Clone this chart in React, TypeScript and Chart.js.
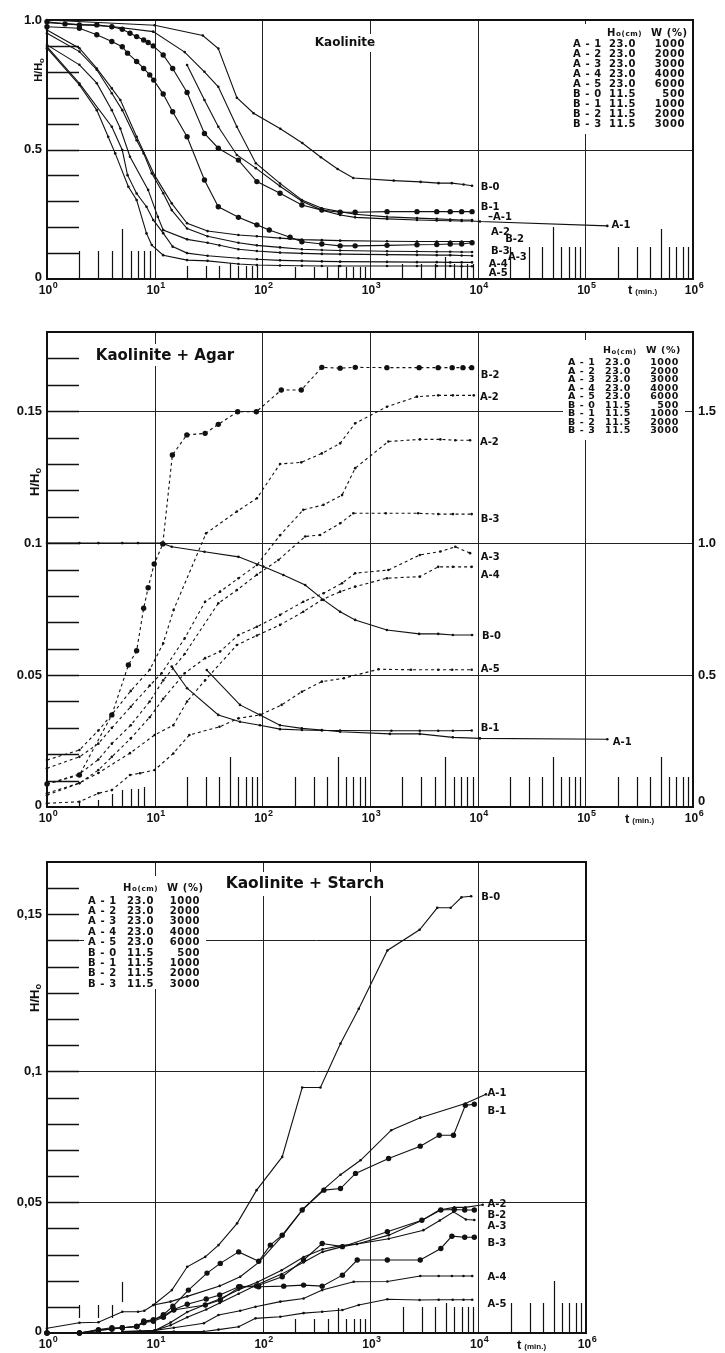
import React, { useEffect, useRef } from "react";
import { Chart, registerables } from "chart.js";

Chart.register(...registerables);

// ================= shared table text =================
const legendNames = ["A-1", "A-2", "A-3", "A-4", "A-5", "B-0", "B-1", "B-2", "B-3"];
const legendH0 = ["23.0", "23.0", "23.0", "23.0", "23.0", "11.5", "11.5", "11.5", "11.5"];
const legendW = ["1000", "2000", "3000", "4000", "6000", "500", "1000", "2000", "3000"];

// ================= Panel 1 : Kaolinite (H/H0) =================
const p1_B0_t = [1, 10, 28, 39, 58, 83, 147, 235, 350, 500, 700, 1660, 2950, 4330, 5750, 7400, 8870];
const p1_B0_v = [1.0, 0.98, 0.94, 0.89, 0.7, 0.64, 0.58, 0.525, 0.47, 0.425, 0.39, 0.38, 0.375, 0.37, 0.37, 0.365, 0.36];
const p1_B1_t = [1, 1.47, 2, 2.9, 4, 5, 5.9, 6.8, 7.9, 8.7, 9.7, 12, 14.7, 20, 29, 39, 60, 89, 146, 233, 357, 528, 728, 1440, 2730, 4170, 5560, 7100, 8870];
const p1_B1_v = [0.993, 0.985, 0.981, 0.981, 0.974, 0.964, 0.949, 0.936, 0.923, 0.913, 0.9, 0.865, 0.813, 0.72, 0.562, 0.505, 0.459, 0.376, 0.331, 0.286, 0.266, 0.258, 0.258, 0.26, 0.26, 0.26, 0.26, 0.26, 0.26];
const p1_A1a_t = [1, 4, 9.7, 19, 29, 39, 58, 87, 146, 233, 357, 528, 728, 1440, 2730, 4170, 5560, 7100, 8870];
const p1_A1a_v = [0.99, 0.975, 0.955, 0.876, 0.8, 0.742, 0.588, 0.447, 0.369, 0.305, 0.273, 0.26, 0.25, 0.24, 0.235, 0.232, 0.23, 0.228, 0.228];
const p1_A1_t = [20, 29, 39, 58, 87, 146, 233, 357, 528, 728, 1440, 2730, 4170, 5560, 7100, 8870, 10500, 160000];
const p1_A1_v = [0.826, 0.691, 0.588, 0.479, 0.428, 0.358, 0.3, 0.266, 0.247, 0.238, 0.232, 0.228, 0.226, 0.225, 0.224, 0.224, 0.222, 0.205];
const p1_B2_t = [1, 2, 2.9, 4, 5, 5.6, 6.8, 7.9, 9, 9.8, 12, 14.7, 20, 29, 39, 60, 89, 116, 181, 233, 357, 528, 728, 1440, 2730, 4170, 5560, 7100, 8870];
const p1_B2_v = [0.974, 0.968, 0.943, 0.917, 0.897, 0.872, 0.84, 0.813, 0.788, 0.768, 0.714, 0.646, 0.549, 0.382, 0.279, 0.238, 0.209, 0.189, 0.161, 0.144, 0.135, 0.128, 0.128, 0.13, 0.132, 0.133, 0.135, 0.135, 0.14];
const p1_A2_t = [1, 2, 2.9, 4, 4.8, 6.8, 10, 14.4, 20, 31, 60, 89, 146, 233, 357, 528, 1440, 2730, 4170, 5560, 7100, 8870];
const p1_A2_v = [0.961, 0.891, 0.813, 0.736, 0.691, 0.549, 0.4, 0.292, 0.215, 0.185, 0.17, 0.165, 0.158, 0.152, 0.15, 0.148, 0.146, 0.145, 0.145, 0.145, 0.145, 0.145];
const p1_B3_t = [1, 2, 2.9, 4, 5, 6.8, 7.9, 9.4, 12, 14.4, 20, 31, 60, 89, 146, 233, 357, 528, 1440, 2730, 4170, 5560, 7100, 8870];
const p1_B3_v = [0.949, 0.878, 0.808, 0.717, 0.652, 0.536, 0.485, 0.408, 0.331, 0.266, 0.195, 0.165, 0.14, 0.13, 0.122, 0.115, 0.112, 0.11, 0.107, 0.106, 0.105, 0.105, 0.104, 0.104];
const p1_A3_t = [1, 2, 2.9, 4, 4.8, 5.9, 8.7, 10.7, 12, 20, 31, 40, 60, 89, 146, 233, 357, 528, 1440, 2730, 4170, 5560, 7100, 8870];
const p1_A3_v = [0.904, 0.827, 0.756, 0.652, 0.581, 0.472, 0.344, 0.24, 0.189, 0.153, 0.14, 0.13, 0.115, 0.108, 0.102, 0.099, 0.097, 0.096, 0.094, 0.093, 0.092, 0.092, 0.091, 0.09];
const p1_A4_t = [1, 2, 4, 5, 5.6, 6.8, 8.4, 9.7, 12, 14.7, 20, 31, 60, 89, 146, 233, 357, 528, 1440, 2730, 4170, 5560, 7100, 8870];
const p1_A4_v = [0.897, 0.755, 0.588, 0.498, 0.401, 0.33, 0.279, 0.228, 0.177, 0.125, 0.1, 0.09, 0.08, 0.076, 0.072, 0.07, 0.068, 0.067, 0.066, 0.065, 0.065, 0.064, 0.064, 0.064];
const p1_A5_t = [1, 2, 2.9, 3.7, 4.3, 5.7, 6.8, 8.4, 9.4, 12, 20, 31, 60, 89, 146, 233, 357, 528, 1440, 2730, 4170, 5560, 7100, 8870];
const p1_A5_v = [0.891, 0.749, 0.652, 0.549, 0.485, 0.356, 0.305, 0.176, 0.131, 0.092, 0.073, 0.07, 0.058, 0.054, 0.052, 0.051, 0.05, 0.05, 0.05, 0.05, 0.05, 0.05, 0.049, 0.049];

// ================= Panel 2 : Kaolinite + Agar =================
// dotted curves, left axis (H/H0)
const p2_B2_t = [1, 2, 4, 5.7, 6.8, 7.9, 8.7, 9.9, 11.9, 14.6, 19.9, 29.4, 39, 59, 88, 150, 230, 357, 528, 730, 1436, 2860, 4300, 5800, 7300, 8800];
const p2_B2_v = [0.0087, 0.0121, 0.0349, 0.0538, 0.0592, 0.0753, 0.0831, 0.0921, 0.0997, 0.1334, 0.141, 0.1416, 0.145, 0.1498, 0.1498, 0.158, 0.158, 0.1666, 0.1663, 0.1666, 0.1665, 0.1665, 0.1665, 0.1665, 0.1665, 0.1665];
const p2_A2u_t = [1, 2, 3, 4, 6, 9, 12, 15, 30, 58, 89, 146, 230, 357, 528, 728, 1436, 2730, 4300, 5880, 9200];
const p2_A2u_v = [0.0178, 0.0216, 0.029, 0.035, 0.044, 0.052, 0.062, 0.0747, 0.1037, 0.112, 0.117, 0.13, 0.1306, 0.134, 0.1378, 0.1454, 0.1517, 0.1555, 0.156, 0.156, 0.156];
const p2_A2l_t = [1, 2, 3, 4, 6, 9, 11.6, 19, 29.4, 40.5, 60, 89, 146, 240, 370, 550, 728, 1480, 2900, 4500, 6200, 8500];
const p2_A2l_v = [0.0147, 0.019, 0.024, 0.03, 0.038, 0.046, 0.0507, 0.0639, 0.0778, 0.0816, 0.0867, 0.0917, 0.103, 0.1126, 0.1145, 0.1182, 0.1284, 0.1385, 0.1393, 0.1393, 0.139, 0.139];
const p2_B3_t = [1, 2, 3, 4, 6, 9, 12, 19, 39, 58, 89, 141, 250, 344, 528, 700, 1400, 2800, 4300, 5900, 8800];
const p2_B3_v = [0.0087, 0.0125, 0.018, 0.024, 0.031, 0.04, 0.048, 0.058, 0.0772, 0.0822, 0.088, 0.0936, 0.1025, 0.1031, 0.1075, 0.1113, 0.1113, 0.1113, 0.111, 0.111, 0.111];
const p2_A3_t = [1, 2, 3, 4, 6, 9, 12, 19, 29.4, 40.5, 60, 89, 146, 240, 370, 550, 728, 1480, 2900, 4500, 6200, 8500];
const p2_A3_v = [0.0045, 0.009, 0.014, 0.019, 0.026, 0.034, 0.041, 0.0507, 0.0564, 0.0589, 0.0652, 0.0683, 0.0728, 0.0778, 0.081, 0.0848, 0.0886, 0.0898, 0.0955, 0.0968, 0.0986, 0.0962];
const p2_A4_t = [1, 2, 3, 5.9, 10, 14.9, 20, 29.4, 58, 89, 146, 240, 357, 528, 728, 1436, 2900, 4300, 5880, 8800];
const p2_A4_v = [0.0052, 0.0091, 0.0129, 0.0204, 0.0273, 0.031, 0.04, 0.048, 0.0614, 0.065, 0.069, 0.074, 0.0785, 0.0816, 0.0835, 0.0867, 0.0873, 0.091, 0.091, 0.091];
const p2_A5_t = [1, 2, 3, 4, 5.9, 7.3, 10, 14.9, 21, 40, 60, 95, 151, 233, 357, 570, 1200, 2400, 4300, 5800, 8800];
const p2_A5_v = [0.0014, 0.002, 0.0052, 0.0064, 0.0121, 0.0128, 0.014, 0.0203, 0.0273, 0.0304, 0.0336, 0.0349, 0.0387, 0.0437, 0.0475, 0.0488, 0.0522, 0.052, 0.052, 0.052, 0.052];
// solid curves, right axis (H/H0)
const p2_B0_t = [1, 2, 3, 5, 7, 11.6, 14.4, 29, 60, 102, 157, 250, 370, 528, 728, 1436, 2860, 4300, 5880, 8870];
const p2_B0_v = [1.0, 1.0, 1.0, 1.0, 1.0, 1.0, 0.986, 0.967, 0.948, 0.911, 0.879, 0.841, 0.785, 0.74, 0.709, 0.671, 0.656, 0.656, 0.652, 0.652];
const p2_B1_t = [14.4, 20, 39, 62, 95, 146, 233, 357, 528, 1580, 2900, 4300, 5880, 8800];
const p2_B1_v = [0.532, 0.45, 0.349, 0.323, 0.31, 0.295, 0.292, 0.29, 0.29, 0.289, 0.289, 0.289, 0.289, 0.29];
const p2_A1_t = [30.5, 62, 95, 146, 233, 357, 528, 1530, 2900, 5880, 10500, 160000];
const p2_A1_v = [0.519, 0.387, 0.349, 0.31, 0.298, 0.292, 0.285, 0.277, 0.277, 0.264, 0.26, 0.257];

// ================= Panel 3 : Kaolinite + Starch =================
const p3_B0_t = [1, 2, 3, 5, 7, 8, 9.7, 14.4, 20, 29.4, 39, 58, 88, 152, 233, 344, 528, 780, 1436, 2860, 4170, 5560, 7000, 8600];
const p3_B0_v = [0.0018, 0.0039, 0.0041, 0.0081, 0.0081, 0.0085, 0.0107, 0.0164, 0.0253, 0.0291, 0.0336, 0.0419, 0.0546, 0.0673, 0.0938, 0.0938, 0.1106, 0.1239, 0.1462, 0.1541, 0.1625, 0.1625, 0.1665, 0.1669];
const p3_A1_t = [9.7, 14, 20, 40, 62, 92, 152, 240, 370, 528, 810, 1560, 2900, 7600, 11800];
const p3_A1_v = [0.0107, 0.012, 0.014, 0.018, 0.0215, 0.027, 0.037, 0.0476, 0.055, 0.0605, 0.066, 0.0775, 0.0823, 0.0877, 0.0912];
const p3_B1_t = [1, 2, 3, 4, 5, 6.8, 7.9, 9.7, 12, 14.7, 20.5, 30.5, 40.5, 60, 92, 118, 152, 233, 370, 528, 728, 1475, 2900, 4350, 5900, 7600, 9200];
const p3_B1_v = [0, 0, 0.0013, 0.002, 0.002, 0.0025, 0.0046, 0.005, 0.007, 0.0102, 0.0164, 0.0229, 0.0266, 0.031, 0.0274, 0.0336, 0.0374, 0.047, 0.0546, 0.0552, 0.061, 0.0667, 0.0714, 0.0756, 0.0756, 0.087, 0.0874];
const p3_B2_t = [1, 2, 3, 4, 5, 6.8, 7.9, 9.7, 12, 15, 20, 30, 40, 60, 88, 152, 240, 357, 550, 1436, 3000, 4500, 6000, 7500, 9200];
const p3_B2_v = [0, 0, 0.001, 0.0015, 0.002, 0.0025, 0.004, 0.005, 0.0065, 0.009, 0.011, 0.013, 0.0145, 0.0177, 0.018, 0.0215, 0.0279, 0.0342, 0.033, 0.0387, 0.0431, 0.047, 0.0472, 0.047, 0.047];
const p3_B3_t = [1, 2, 3, 4, 5, 6.8, 7.9, 9.7, 12, 15, 29.4, 40.5, 62, 92, 157, 240, 357, 550, 755, 1436, 2900, 4500, 5700, 7500, 9200];
const p3_B3_v = [0, 0, 0.001, 0.0015, 0.002, 0.0025, 0.004, 0.0045, 0.006, 0.0088, 0.0107, 0.0126, 0.0177, 0.0177, 0.0179, 0.0183, 0.0179, 0.0221, 0.0279, 0.0279, 0.0279, 0.0323, 0.037, 0.0366, 0.0366];
const p3_A2_t = [10, 14, 20, 30, 40, 60, 90, 150, 240, 360, 550, 750, 1480, 3000, 4350, 6000, 7600, 11000];
const p3_A2_v = [0.001, 0.004, 0.008, 0.011, 0.013, 0.0165, 0.0195, 0.024, 0.029, 0.032, 0.0335, 0.034, 0.0374, 0.043, 0.047, 0.048, 0.048, 0.049];
const p3_A3_t = [10, 14, 20, 30, 40, 60, 90, 150, 240, 360, 550, 750, 1480, 3100, 4400, 5900, 7700, 9200];
const p3_A3_v = [0.001, 0.003, 0.006, 0.009, 0.0115, 0.015, 0.0185, 0.0225, 0.027, 0.031, 0.033, 0.034, 0.036, 0.0393, 0.043, 0.0463, 0.0434, 0.0432];
const p3_A4_t = [5, 7.3, 10, 15, 28.5, 39, 62, 86, 146, 240, 357, 700, 1436, 2900, 4300, 5700, 7300, 8800];
const p3_A4_v = [0.0006, 0.0008, 0.001, 0.002, 0.0037, 0.0069, 0.0085, 0.01, 0.012, 0.0132, 0.0164, 0.0196, 0.0197, 0.0218, 0.0218, 0.0218, 0.0218, 0.0218];
const p3_A5_t = [5, 7.3, 15, 28.5, 39, 60, 86, 146, 240, 357, 550, 780, 1436, 2860, 4300, 5800, 7300, 8800];
const p3_A5_v = [0.0006, 0.0006, 0.0006, 0.0006, 0.0013, 0.0024, 0.0056, 0.0062, 0.0076, 0.0081, 0.0088, 0.0107, 0.0129, 0.0126, 0.0127, 0.0127, 0.0127, 0.0127];

// ================= axis tick labels =================
const p1YTicks = [0, 0.5, 1.0];
const p1YText = ["0", "0.5", "1.0"];
const p2YTicks = [0, 0.05, 0.1, 0.15];
const p2YText = ["0", "0.05", "0.1", "0.15"];
const p2Y1Ticks = [0, 0.5, 1.0, 1.5];
const p2Y1Text = ["0", "0.5", "1.0", "1.5"];
const p3YTicks = [0, 0.05, 0.1, 0.16];
const p3YText = ["0", "0,05", "0,1", "0,15"];
const p12XExp = [0, 1, 2, 3, 4, 5, 6];
const p12XText = ["0", "1", "2", "3", "4", "5", "6"];
const p3XExp = [0, 1, 2, 3, 4, 5];
const p3XText = ["0", "1", "2", "3", "4", "6"];

// ================= types & config =================
type Series = { name: string; t: number[]; v: number[]; big?: boolean; dash?: boolean; right?: boolean };
type Lbl = { text: string; t: number; v: number; right?: boolean };
type TickSpec = (decade: number, m: number) => [number, number] | null;

interface PanelCfg {
  id: string;
  top: number;
  height: number;
  pad: { left: number; right: number; top: number; bottom: number };
  xMax: number;
  yMax: number;
  y1Max?: number;
  series: Series[];
  yTicks: number[];
  yText: string[];
  y1Ticks?: number[];
  y1Text?: string[];
  xExp: number[];
  xText: string[];
  hGrid: number[];
  vGrid: number[];
  minorStep: number;
  minorCount: number;
  tickSpec: TickSpec;
  title: { text: string; x: number; y: number; size: number };
  yTitle: { x: number; y: number; size: number };
  tmin: { x: number; y: number };
  legend: { nameX: number; h0X: number; wRight: number; headY: number; headH0X: number; headWX: number; row0: number; gap: number; size: number; clear: [number, number, number, number] };
  labels: Lbl[];
  titleClear: [number, number, number, number];
}

const p1Series: Series[] = [
  { name: "B-0", t: p1_B0_t, v: p1_B0_v },
  { name: "B-1", t: p1_B1_t, v: p1_B1_v, big: true },
  { name: "A-1 (a)", t: p1_A1a_t, v: p1_A1a_v },
  { name: "A-1", t: p1_A1_t, v: p1_A1_v },
  { name: "B-2", t: p1_B2_t, v: p1_B2_v, big: true },
  { name: "A-2", t: p1_A2_t, v: p1_A2_v },
  { name: "B-3", t: p1_B3_t, v: p1_B3_v },
  { name: "A-3", t: p1_A3_t, v: p1_A3_v },
  { name: "A-4", t: p1_A4_t, v: p1_A4_v },
  { name: "A-5", t: p1_A5_t, v: p1_A5_v },
];

const p2Series: Series[] = [
  { name: "B-2", t: p2_B2_t, v: p2_B2_v, big: true, dash: true },
  { name: "A-2", t: p2_A2u_t, v: p2_A2u_v, dash: true },
  { name: "A-2 (2)", t: p2_A2l_t, v: p2_A2l_v, dash: true },
  { name: "B-3", t: p2_B3_t, v: p2_B3_v, dash: true },
  { name: "A-3", t: p2_A3_t, v: p2_A3_v, dash: true },
  { name: "A-4", t: p2_A4_t, v: p2_A4_v, dash: true },
  { name: "A-5", t: p2_A5_t, v: p2_A5_v, dash: true },
  { name: "B-0", t: p2_B0_t, v: p2_B0_v, right: true },
  { name: "B-1", t: p2_B1_t, v: p2_B1_v, right: true },
  { name: "A-1", t: p2_A1_t, v: p2_A1_v, right: true },
];

const p3Series: Series[] = [
  { name: "B-0", t: p3_B0_t, v: p3_B0_v },
  { name: "A-1", t: p3_A1_t, v: p3_A1_v },
  { name: "B-1", t: p3_B1_t, v: p3_B1_v, big: true },
  { name: "B-2", t: p3_B2_t, v: p3_B2_v, big: true },
  { name: "B-3", t: p3_B3_t, v: p3_B3_v, big: true },
  { name: "A-2", t: p3_A2_t, v: p3_A2_v },
  { name: "A-3", t: p3_A3_t, v: p3_A3_v },
  { name: "A-4", t: p3_A4_t, v: p3_A4_v },
  { name: "A-5", t: p3_A5_t, v: p3_A5_v },
];

const P1: PanelCfg = {
  id: "p1",
  top: 0,
  height: 305,
  pad: { left: 47, right: 32, top: 20, bottom: 26 },
  xMax: 1e6,
  yMax: 1.0,
  series: p1Series,
  yTicks: p1YTicks,
  yText: p1YText,
  xExp: p12XExp,
  xText: p12XText,
  hGrid: [0.5],
  vGrid: [1, 2, 3, 4, 5],
  minorStep: 0.1,
  minorCount: 9,
  tickSpec: (d, m) => {
    const base = [28, 13, 12, 15, 32, 32][d];
    const five = [50, 16, 14, 22, 52, 50][d];
    return [0, m === 5 ? five : base];
  },
  title: { text: "Kaolinite", x: 345, y: 43, size: 12 },
  titleClear: [318, 34, 60, 18],
  yTitle: { x: 39, y: 70, size: 11 },
  tmin: { x: 628, y: 294 },
  legend: { nameX: 573, h0X: 609, wRight: 685, headY: 33, headH0X: 607, headWX: 651, row0: 44, gap: 10.1, size: 10, clear: [566, 24, 124, 110] },
  labels: [
    { text: "B-0", t: 10700, v: 0.355 },
    { text: "B-1", t: 10700, v: 0.276 },
    { text: "–A-1", t: 12500, v: 0.236 },
    { text: "A-2", t: 13300, v: 0.18 },
    { text: "B-2", t: 18000, v: 0.151 },
    { text: "B-3", t: 13300, v: 0.108 },
    { text: "A-3", t: 19100, v: 0.082 },
    { text: "A-4", t: 12700, v: 0.055 },
    { text: "A-5", t: 12700, v: 0.02 },
    { text: "A-1", t: 175000, v: 0.205 },
  ],
};

const P2: PanelCfg = {
  id: "p2",
  top: 305,
  height: 530,
  pad: { left: 47, right: 32, top: 27, bottom: 28 },
  xMax: 1e6,
  yMax: 0.18,
  y1Max: 1.8,
  series: p2Series,
  yTicks: p2YTicks,
  yText: p2YText,
  y1Ticks: p2Y1Ticks,
  y1Text: p2Y1Text,
  xExp: p12XExp,
  xText: p12XText,
  hGrid: [0.05, 0.1, 0.15],
  vGrid: [1, 2, 3, 4, 5],
  minorStep: 0.01,
  minorCount: 17,
  tickSpec: (d, m) => {
    if (d === 0) return [0, [0, 0, 5, 7, 13, 17, 18, 18, 20][m]];
    return [0, m === 5 ? 50 : 30];
  },
  title: { text: "Kaolinite + Agar", x: 165, y: 356, size: 15 },
  titleClear: [86, 344, 160, 22],
  yTitle: { x: 35, y: 482, size: 13 },
  tmin: { x: 625, y: 823 },
  legend: { nameX: 568, h0X: 605, wRight: 679, headY: 351, headH0X: 603, headWX: 646, row0: 363, gap: 8.5, size: 9.5, clear: [563, 340, 122, 100] },
  labels: [
    { text: "B-2", t: 10700, v: 0.1637 },
    { text: "A-2", t: 10500, v: 0.1554 },
    { text: "A-2", t: 10500, v: 0.138 },
    { text: "B-3", t: 10700, v: 0.1088 },
    { text: "A-3", t: 10700, v: 0.0944 },
    { text: "A-4", t: 10700, v: 0.0879 },
    { text: "B-0", t: 11000, v: 0.0648 },
    { text: "A-5", t: 10700, v: 0.0523 },
    { text: "B-1", t: 10700, v: 0.0296 },
    { text: "A-1", t: 180000, v: 0.0243 },
  ],
};

const P3: PanelCfg = {
  id: "p3",
  top: 835,
  height: 518,
  pad: { left: 47, right: 139, top: 27, bottom: 20 },
  xMax: 1e5,
  yMax: 0.18,
  series: p3Series,
  yTicks: p3YTicks,
  yText: p3YText,
  xExp: p3XExp,
  xText: p3XText,
  hGrid: [0.05, 0.1, 0.15],
  vGrid: [1, 2, 3, 4],
  minorStep: 0.01,
  minorCount: 17,
  tickSpec: (d, m) => {
    if (d === 0) {
      if (m <= 4) return [15, 28];
      if (m === 5) return [31, 51];
      return null;
    }
    if (d === 1) return null;
    if (d === 2) return [0, m === 5 ? 25 : 14];
    if (d === 3) return [0, m === 5 ? 30 : 26];
    return [0, m === 5 ? 52 : 30];
  },
  title: { text: "Kaolinite + Starch", x: 305, y: 884, size: 15.5 },
  titleClear: [222, 872, 168, 24],
  yTitle: { x: 35, y: 998, size: 13 },
  tmin: { x: 517, y: 1349 },
  legend: { nameX: 88, h0X: 127, wRight: 200, headY: 888, headH0X: 123, headWX: 167, row0: 901, gap: 10.4, size: 10, clear: [84, 876, 122, 113] },
  labels: [
    { text: "B-0", t: 10700, v: 0.1664 },
    { text: "A-1", t: 12200, v: 0.0916 },
    { text: "B-1", t: 12200, v: 0.0847 },
    { text: "A-2", t: 12200, v: 0.0492 },
    { text: "B-2", t: 12200, v: 0.045 },
    { text: "A-3", t: 12200, v: 0.0408 },
    { text: "B-3", t: 12200, v: 0.0344 },
    { text: "A-4", t: 12200, v: 0.0214 },
    { text: "A-5", t: 12200, v: 0.0111 },
  ],
};

const SANS = "'Liberation Sans', Arial, sans-serif";
const DJ = "'DejaVu Sans', sans-serif";
const INK = "#111";

function makeDeco(cfg: PanelCfg) {
  const off = cfg.top;
  return {
    id: "deco_" + cfg.id,
    beforeDatasetsDraw(chart: any) {
      const ctx: CanvasRenderingContext2D = chart.ctx;
      const { left, right, top, bottom } = chart.chartArea;
      const xs = chart.scales.x;
      const ys = chart.scales.y;
      ctx.save();
      ctx.strokeStyle = "#222";
      ctx.lineWidth = 1;
      ctx.beginPath();
      for (const e of cfg.vGrid) {
        const x = Math.round(xs.getPixelForValue(Math.pow(10, e))) + 0.5;
        ctx.moveTo(x, top);
        ctx.lineTo(x, bottom);
      }
      for (const v of cfg.hGrid) {
        const y = Math.round(ys.getPixelForValue(v)) + 0.5;
        ctx.moveTo(left, y);
        ctx.lineTo(right, y);
      }
      ctx.stroke();
      // left minor ticks
      ctx.lineWidth = 1.6;
      ctx.strokeStyle = INK;
      ctx.beginPath();
      for (let i = 1; i <= cfg.minorCount; i++) {
        const v = i * cfg.minorStep;
        const y = Math.round(ys.getPixelForValue(v)) + 0.5;
        ctx.moveTo(left, y);
        ctx.lineTo(left + 32, y);
      }
      ctx.stroke();
      // bottom log minor ticks
      ctx.lineWidth = 1.2;
      ctx.beginPath();
      for (let d = 0; Math.pow(10, d) < cfg.xMax; d++) {
        for (let m = 2; m <= 9; m++) {
          const spec = cfg.tickSpec(d, m);
          if (!spec || spec[1] <= spec[0]) continue;
          const x = Math.round(xs.getPixelForValue(m * Math.pow(10, d))) + 0.5;
          ctx.moveTo(x, bottom - spec[0]);
          ctx.lineTo(x, bottom - spec[1]);
        }
      }
      ctx.stroke();
      // clear areas behind legend table and title
      ctx.fillStyle = "#fff";
      const c = cfg.legend.clear;
      ctx.fillRect(c[0], c[1] - off, c[2], c[3]);
      const tc = cfg.titleClear;
      ctx.fillRect(tc[0], tc[1] - off, tc[2], tc[3]);
      ctx.restore();
    },
    afterDraw(chart: any) {
      const ctx: CanvasRenderingContext2D = chart.ctx;
      const { left, right, top, bottom } = chart.chartArea;
      const xs = chart.scales.x;
      const ys = chart.scales.y;
      ctx.save();
      // frame
      ctx.strokeStyle = INK;
      ctx.lineWidth = 2;
      ctx.strokeRect(left, top, right - left, bottom - top);
      ctx.fillStyle = INK;
      // y tick labels (left)
      ctx.font = `bold 13px ${SANS}`;
      ctx.textAlign = "right";
      ctx.textBaseline = "middle";
      cfg.yTicks.forEach((v, i) => {
        ctx.fillText(cfg.yText[i], left - 5, ys.getPixelForValue(v) + (v === 0 ? -2 : 0));
      });
      // y1 labels (right)
      if (cfg.y1Ticks && cfg.y1Text) {
        const y1 = chart.scales.y1;
        ctx.textAlign = "left";
        cfg.y1Ticks.forEach((v, i) => {
          ctx.fillText(cfg.y1Text![i], right + 5, y1.getPixelForValue(v) + (v === 0 ? -6 : 0));
        });
      }
      // x tick labels 10^n
      ctx.textBaseline = "alphabetic";
      ctx.textAlign = "left";
      cfg.xExp.forEach((e, i) => {
        const x = xs.getPixelForValue(Math.pow(10, e));
        ctx.font = `bold 12px ${SANS}`;
        const w1 = ctx.measureText("10").width;
        ctx.font = `bold 9px ${SANS}`;
        const w2 = ctx.measureText(cfg.xText[i]).width;
        const sx = x - (w1 + w2) / 2 + 1;
        const by = bottom + 15;
        ctx.font = `bold 12px ${SANS}`;
        ctx.fillText("10", sx, by);
        ctx.font = `bold 9px ${SANS}`;
        ctx.fillText(cfg.xText[i], sx + w1 + 0.5, by - 6);
      });
      // t (min.)
      ctx.font = `bold 13px ${SANS}`;
      ctx.fillText("t", cfg.tmin.x, cfg.tmin.y - off);
      const tw = ctx.measureText("t").width;
      ctx.font = `bold 8px ${SANS}`;
      ctx.fillText("(min.)", cfg.tmin.x + tw + 3, cfg.tmin.y - off);
      // y axis title (rotated)
      ctx.save();
      ctx.translate(cfg.yTitle.x, cfg.yTitle.y - off);
      ctx.rotate(-Math.PI / 2);
      ctx.font = `bold ${cfg.yTitle.size}px ${SANS}`;
      const mainW = ctx.measureText("H/H").width;
      ctx.font = `bold ${cfg.yTitle.size * 0.7}px ${SANS}`;
      const subW = ctx.measureText("o").width;
      const st = -(mainW + subW) / 2;
      ctx.textBaseline = "middle";
      ctx.font = `bold ${cfg.yTitle.size}px ${SANS}`;
      ctx.fillText("H/H", st, 0);
      ctx.font = `bold ${cfg.yTitle.size * 0.7}px ${SANS}`;
      ctx.fillText("o", st + mainW, cfg.yTitle.size * 0.25);
      ctx.restore();
      // title
      ctx.font = `bold ${cfg.title.size}px ${DJ}`;
      ctx.textAlign = "center";
      ctx.textBaseline = "middle";
      ctx.fillText(cfg.title.text, cfg.title.x, cfg.title.y - off);
      // legend table
      const L = cfg.legend;
      const anyCtx = ctx as any;
      anyCtx.letterSpacing = "0.6px";
      ctx.textBaseline = "middle";
      ctx.font = `bold ${L.size}px ${DJ}`;
      ctx.textAlign = "left";
      ctx.fillText("H", L.headH0X, L.headY - off);
      const hw = ctx.measureText("H").width;
      ctx.font = `bold ${L.size * 0.72}px ${DJ}`;
      ctx.fillText("o(cm)", L.headH0X + hw, L.headY - off + 1.5);
      ctx.font = `bold ${L.size}px ${DJ}`;
      ctx.fillText("W (%)", L.headWX, L.headY - off);
      legendNames.forEach((n, i) => {
        const y = L.row0 + i * L.gap - off;
        ctx.textAlign = "left";
        ctx.fillText(n.replace("-", " - "), L.nameX, y);
        ctx.fillText(legendH0[i], L.h0X, y);
        ctx.textAlign = "right";
        ctx.fillText(legendW[i], L.wRight, y);
      });
      anyCtx.letterSpacing = "0px";
      // curve labels
      ctx.font = `bold 10px ${DJ}`;
      ctx.textAlign = "left";
      cfg.labels.forEach((lb) => {
        ctx.fillText(lb.text, xs.getPixelForValue(lb.t), ys.getPixelForValue(lb.v));
      });
      ctx.restore();
    },
  };
}

function Panel({ cfg }: { cfg: PanelCfg }) {
  const ref = useRef<HTMLCanvasElement | null>(null);
  useEffect(() => {
    if (!ref.current) return;
    const datasets = cfg.series.map((s) => ({
      label: s.name,
      data: s.t.map((t, i) => ({ x: t, y: s.v[i] })),
      yAxisID: s.right ? "y1" : "y",
      borderColor: INK,
      backgroundColor: INK,
      borderWidth: 1.1,
      borderDash: s.dash ? [3, 3] : [],
      pointRadius: s.big ? 2.7 : 1.3,
      pointBackgroundColor: INK,
      pointBorderWidth: 0,
      pointHoverRadius: 0,
      tension: 0,
      fill: false,
      clip: false as any,
    }));
    const scales: any = {
      x: { type: "logarithmic", min: 1, max: cfg.xMax, display: false },
      y: { type: "linear", min: 0, max: cfg.yMax, display: false },
    };
    if (cfg.y1Max) scales.y1 = { type: "linear", min: 0, max: cfg.y1Max, display: false, position: "right" };
    const chart = new Chart(ref.current, {
      type: "line",
      data: { datasets },
      options: {
        responsive: false,
        animation: false,
        devicePixelRatio: 1,
        events: [],
        layout: { padding: cfg.pad },
        scales,
        plugins: { legend: { display: false }, tooltip: { enabled: false } },
      },
      plugins: [makeDeco(cfg)],
    } as any);
    return () => chart.destroy();
  }, [cfg]);
  return (
    <canvas
      ref={ref}
      width={725}
      height={cfg.height}
      style={{ position: "absolute", left: 0, top: cfg.top, width: 725, height: cfg.height }}
    />
  );
}

export default function App() {
  return (
    <div style={{ position: "absolute", left: 0, top: 0, width: 725, height: 1353, background: "#fff" }}>
      <Panel cfg={P1} />
      <Panel cfg={P2} />
      <Panel cfg={P3} />
    </div>
  );
}
